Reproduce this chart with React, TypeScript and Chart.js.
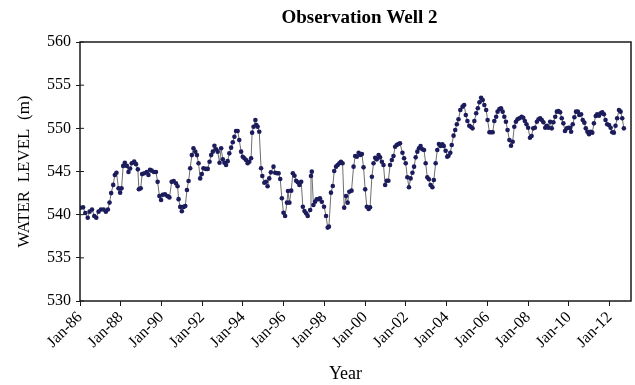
import React, { useEffect, useRef } from "react";
import { Chart, registerables } from "chart.js";

Chart.register(...registerables);

const chartTitle = "Observation Well 2";
const yAxisTitle = "WATER  LEVEL  (m)";
const xAxisTitle = "Year";

const tickYears = [1986, 1988, 1990, 1992, 1994, 1996, 1998, 2000, 2002, 2004, 2006, 2008, 2010, 2012];
const tickLabels = ["Jan-86", "Jan-88", "Jan-90", "Jan-92", "Jan-94", "Jan-96", "Jan-98", "Jan-00", "Jan-02", "Jan-04", "Jan-06", "Jan-08", "Jan-10", "Jan-12"];

// observation dates (decimal years)
const dates = [
  1986.01, 1986.15, 1986.26, 1986.38, 1986.47, 1986.59, 1986.70, 1986.80, 1986.91, 1987.03,
  1987.16, 1987.27, 1987.37, 1987.45, 1987.53, 1987.63, 1987.71, 1987.79, 1987.89, 1987.97,
  1988.04, 1988.12, 1988.20, 1988.30, 1988.38, 1988.46, 1988.54, 1988.66, 1988.75, 1988.84,
  1988.89, 1988.98, 1989.05, 1989.16, 1989.28, 1989.36, 1989.44, 1989.52, 1989.63, 1989.73,
  1989.81, 1989.90, 1989.98, 1990.06, 1990.17, 1990.29, 1990.39, 1990.50, 1990.60, 1990.71,
  1990.79, 1990.84, 1990.92, 1991.00, 1991.09, 1991.17, 1991.25, 1991.33, 1991.41, 1991.49,
  1991.57, 1991.66, 1991.74, 1991.82, 1991.90, 1991.98, 1992.06, 1992.18, 1992.27, 1992.36,
  1992.44, 1992.52, 1992.60, 1992.68, 1992.76, 1992.85, 1992.93, 1993.01, 1993.09, 1993.17,
  1993.25, 1993.33, 1993.42, 1993.50, 1993.58, 1993.66, 1993.74, 1993.82, 1993.91, 1993.99,
  1994.07, 1994.15, 1994.23, 1994.31, 1994.40, 1994.45, 1994.52, 1994.61, 1994.66, 1994.72,
  1994.80, 1994.89, 1994.95, 1995.05, 1995.13, 1995.21, 1995.29, 1995.37, 1995.50, 1995.58,
  1995.67, 1995.75, 1995.83, 1995.91, 1995.99, 1996.07, 1996.16, 1996.21, 1996.28, 1996.37,
  1996.45, 1996.53, 1996.61, 1996.69, 1996.77, 1996.86, 1996.94, 1997.02, 1997.10, 1997.18,
  1997.30, 1997.34, 1997.38, 1997.46, 1997.54, 1997.62, 1997.70, 1997.78, 1997.87, 1997.98,
  1998.08, 1998.16, 1998.22, 1998.32, 1998.41, 1998.48, 1998.57, 1998.65, 1998.73, 1998.81,
  1998.89, 1998.97, 1999.06, 1999.14, 1999.22, 1999.33, 1999.43, 1999.51, 1999.59, 1999.68,
  1999.76, 1999.84, 1999.92, 2000.00, 2000.08, 2000.17, 2000.24, 2000.33, 2000.41, 2000.49,
  2000.57, 2000.66, 2000.73, 2000.82, 2000.90, 2000.98, 2001.06, 2001.14, 2001.22, 2001.31,
  2001.39, 2001.47, 2001.55, 2001.63, 2001.71, 2001.83, 2001.91, 2001.99, 2002.07, 2002.15,
  2002.23, 2002.32, 2002.40, 2002.48, 2002.56, 2002.64, 2002.72, 2002.81, 2002.89, 2002.97,
  2003.05, 2003.13, 2003.21, 2003.30, 2003.37, 2003.46, 2003.54, 2003.62, 2003.70, 2003.79,
  2003.86, 2003.95, 2004.03, 2004.09, 2004.18, 2004.25, 2004.34, 2004.42, 2004.50, 2004.58,
  2004.67, 2004.78, 2004.86, 2004.94, 2005.02, 2005.11, 2005.18, 2005.27, 2005.36, 2005.45,
  2005.53, 2005.61, 2005.69, 2005.77, 2005.85, 2005.94, 2006.01, 2006.10, 2006.18, 2006.26,
  2006.34, 2006.43, 2006.50, 2006.59, 2006.67, 2006.75, 2006.83, 2006.91, 2006.99, 2007.08,
  2007.16, 2007.24, 2007.32, 2007.40, 2007.48, 2007.57, 2007.68, 2007.76, 2007.84, 2007.92,
  2008.00, 2008.09, 2008.17, 2008.25, 2008.33, 2008.43, 2008.51, 2008.59, 2008.67, 2008.75,
  2008.84, 2008.92, 2009.00, 2009.08, 2009.16, 2009.24, 2009.33, 2009.41, 2009.49, 2009.57,
  2009.65, 2009.73, 2009.81, 2009.90, 2009.98, 2010.06, 2010.11, 2010.19, 2010.27, 2010.35,
  2010.44, 2010.51, 2010.60, 2010.68, 2010.76, 2010.83, 2010.91, 2010.99, 2011.07, 2011.15,
  2011.23, 2011.32, 2011.39, 2011.48, 2011.56, 2011.64, 2011.72, 2011.80, 2011.88, 2011.97,
  2012.05, 2012.13, 2012.21, 2012.29, 2012.37, 2012.46, 2012.54, 2012.62, 2012.70,
];

// water level (m)
const levels = [
  540.8, 540.85, 540.2, 539.65, 540.35, 540.6, 539.85, 539.65, 540.35, 540.6,
  540.6, 540.35, 540.6, 541.4, 542.5, 543.45, 544.6, 544.85, 543.05, 542.55,
  543.05, 545.65, 546.0, 545.65, 544.95, 545.35, 545.95, 546.15, 545.85, 545.25,
  542.95, 543.05, 544.7, 544.8, 544.95, 544.6, 545.2, 545.1, 544.95, 544.95,
  543.8, 542.15, 541.7, 542.3, 542.35, 542.15, 542.0, 543.8, 543.9, 543.63,
  543.3, 541.8, 540.9, 540.4, 540.9, 541.0, 542.85, 543.9, 545.37, 546.9,
  547.7, 547.3, 546.9, 545.95, 544.2, 544.7, 545.37, 545.3, 545.3, 546.13,
  546.9, 547.3, 547.99, 547.57, 547.3, 546.02, 547.69, 546.41, 546.02, 545.75,
  546.2, 547.1, 547.76, 548.38, 549.03, 549.69, 549.69, 548.65, 547.3, 546.71,
  546.53, 546.33, 545.95, 546.13, 546.53, 549.5, 550.19, 550.97, 550.39, 550.19,
  549.61, 545.37, 544.48, 543.7, 543.82, 543.3, 544.2, 544.9, 545.56, 544.86,
  544.79, 544.79, 544.13, 541.9, 540.23, 539.85, 541.39, 542.74, 541.39, 542.78,
  544.79, 544.51, 543.93, 543.75, 543.44, 543.82, 540.92, 540.42, 540.15, 539.85,
  540.54, 544.48, 544.98, 541.12, 541.5, 541.78, 541.78, 541.9, 541.5, 540.92,
  539.85, 538.5, 538.61, 542.55, 543.32, 545.06, 545.56, 545.75, 545.95, 546.13,
  545.95, 540.81, 542.16, 541.39, 542.66, 542.78, 545.56, 546.79, 546.71, 547.18,
  546.91, 547.03, 545.48, 542.93, 540.92, 540.66, 540.85, 544.4, 545.95, 546.6,
  546.41, 546.91, 546.64, 546.13, 545.75, 543.44, 543.93, 543.93, 545.75, 546.33,
  546.79, 547.87, 548.07, 548.18, 548.27, 547.18, 546.53, 545.95, 544.33, 543.17,
  544.2, 544.86, 545.56, 546.64, 547.3, 547.69, 547.95, 547.57, 547.49, 545.95,
  544.33, 544.1, 543.44, 543.17, 544.02, 545.95, 547.49, 548.18, 547.95, 548.15,
  547.95, 547.41, 546.71, 546.83, 547.18, 548.07, 549.15, 549.81, 550.47, 551.05,
  552.12, 552.51, 552.7, 551.54, 550.85, 550.3, 550.19, 550.0, 550.85, 551.74,
  552.32, 553.02, 553.55, 553.28, 552.7, 552.12, 550.97, 549.54, 549.54, 549.54,
  550.85, 551.35, 551.93, 552.24, 552.32, 551.93, 551.35, 550.77, 549.81, 548.65,
  547.99, 548.45, 550.19, 550.77, 551.05, 551.16, 551.35, 551.23, 550.85, 550.47,
  550.07, 548.91, 549.11, 550.0, 550.07, 550.77, 551.05, 551.16, 550.97, 550.7,
  550.07, 550.3, 550.07, 550.77, 550.0, 550.7, 551.35, 551.93, 552.01, 551.86,
  551.16, 550.58, 549.69, 550.0, 550.07, 550.07, 549.61, 550.47, 551.28, 551.93,
  551.93, 551.54, 551.63, 550.97, 550.66, 550.0, 549.61, 549.31, 549.61, 549.5,
  550.58, 551.43, 551.63, 551.46, 551.74, 551.86, 551.63, 550.97, 550.47, 550.39,
  550.07, 549.54, 549.5, 550.3, 551.16, 552.12, 551.93, 551.16, 550.0,
];

const SERIF = '"Liberation Serif", "Times New Roman", serif';

export default function App() {
  const ref = useRef<HTMLCanvasElement | null>(null);

  useEffect(() => {
    if (!ref.current) return;
    const points = dates.map((d, i) => ({ x: d, y: levels[i] }));

    const framePlugin = {
      id: "frameAndTitles",
      afterDraw(chart: any) {
        const { ctx, chartArea } = chart;
        const { left, right, top, bottom } = chartArea;
        ctx.save();
        ctx.strokeStyle = "#1a1a1a";
        ctx.lineWidth = 1.5;
        ctx.strokeRect(left, top, right - left, bottom - top);
        // inner tick marks on y axis
        const ys = chart.scales.y;
        ctx.lineWidth = 1;
        ys.ticks.forEach((t: any) => {
          const py = ys.getPixelForValue(t.value);
          ctx.beginPath();
          ctx.moveTo(left, py);
          ctx.lineTo(left + 4, py);
          ctx.stroke();
        });
        ctx.fillStyle = "#000";
        ctx.textAlign = "center";
        ctx.textBaseline = "middle";
        ctx.font = "bold 19px " + SERIF;
        ctx.fillText(chartTitle, (left + right) / 2 + 4, 18);
        ctx.font = "18px " + SERIF;
        ctx.fillText(xAxisTitle, (left + right) / 2 - 10, 374);
        ctx.restore();
      },
    };

    const chart = new Chart(ref.current, {
      type: "line",
      data: {
        datasets: [
          {
            data: points,
            borderColor: "#6e6e6e",
            borderWidth: 1,
            pointRadius: 2.3,
            pointBackgroundColor: "#1c1c5c",
            pointBorderColor: "#1c1c5c",
            pointBorderWidth: 0,
            tension: 0,
          },
        ],
      },
      options: {
        animation: false,
        responsive: false,
        layout: { padding: { top: 42, right: 3, left: 0, bottom: 0 } },
        plugins: {
          legend: { display: false },
          tooltip: { enabled: false },
          title: { display: false },
        },
        scales: {
          x: {
            type: "linear",
            min: 1986,
            max: 2013.05,
            afterBuildTicks: (s: any) => {
              s.ticks = tickYears.map((v) => ({ value: v }));
            },
            afterFit: (s: any) => {
              s.height = 84;
            },
            border: { display: false },
            grid: { display: true, drawOnChartArea: false, drawTicks: true, tickLength: 5, color: "#1a1a1a" },
            ticks: {
              autoSkip: false,
              minRotation: 45,
              maxRotation: 45,
              padding: 2,
              color: "#000",
              font: { family: SERIF, size: 16 },
              callback: (v: any) => {
                const i = tickYears.indexOf(Number(v));
                return i >= 0 ? tickLabels[i] : "";
              },
            },
          },
          y: {
            min: 530,
            max: 560,
            afterFit: (s: any) => {
              s.width = 80;
            },
            border: { display: false },
            grid: { display: true, drawOnChartArea: false, drawTicks: true, tickLength: 4, color: "#1a1a1a" },
            ticks: {
              stepSize: 5,
              padding: 5,
              color: "#000",
              font: { family: SERIF, size: 16 },
            },
            title: {
              display: true,
              text: yAxisTitle,
              color: "#000",
              font: { family: SERIF, size: 17 },
              padding: { top: 14, bottom: 0 },
            },
          },
        },
      },
      plugins: [framePlugin],
    });
    return () => chart.destroy();
  }, []);

  return (
    <div style={{ position: "absolute", left: 0, top: 0, width: 635, height: 385, background: "#fff" }}>
      <canvas ref={ref} width={635} height={385} style={{ display: "block" }} />
    </div>
  );
}
